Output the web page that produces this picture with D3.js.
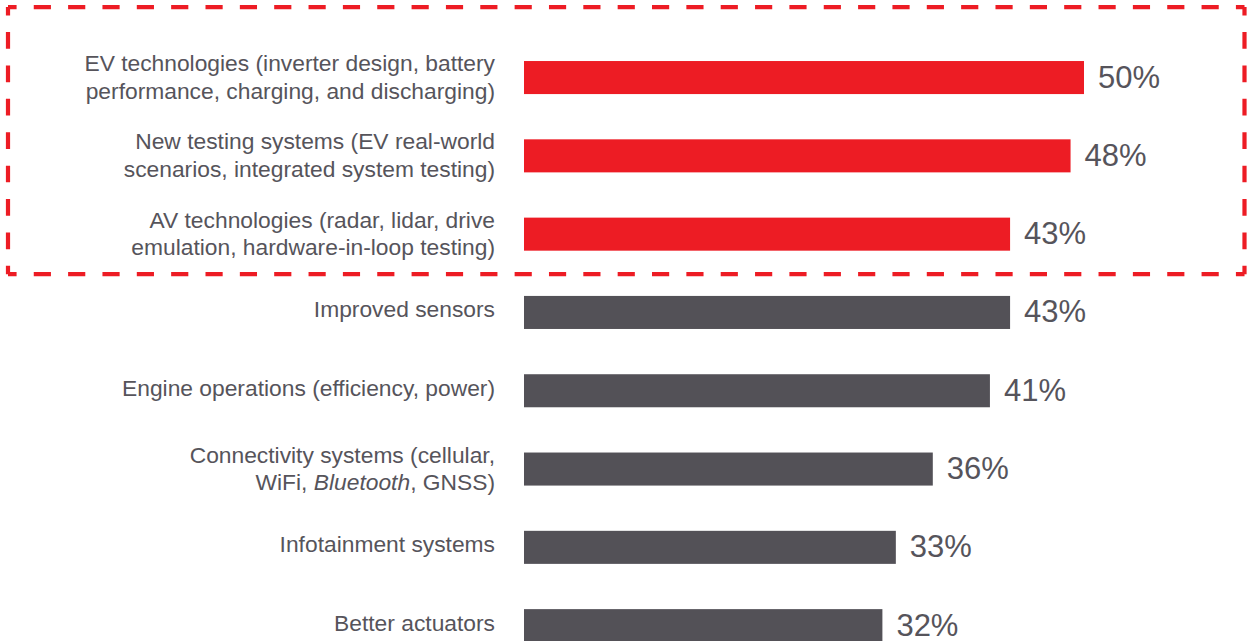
<!DOCTYPE html>
<html>
<head>
<meta charset="utf-8">
<script src="https://cdn.jsdelivr.net/npm/d3@7"></script>
<style>
  html, body { margin: 0; padding: 0; background: #ffffff; }
  svg { display: block; }
</style>
</head>
<body>
<svg id="chart" width="1247" height="641"></svg>
<script>
// ---- data ----
const categories = [
  "EV technologies",
  "New testing systems",
  "AV technologies",
  "Improved sensors",
  "Engine operations",
  "Connectivity systems",
  "Infotainment systems",
  "Better actuators"
];
// label lines: arrays of line segments [text, italic?]
const labelLines = [
  [[["EV technologies (inverter design, battery", false]], [["performance, charging, and discharging)", false]]],
  [[["New testing systems (EV real-world", false]], [["scenarios, integrated system testing)", false]]],
  [[["AV technologies (radar, lidar, drive", false]], [["emulation, hardware-in-loop testing)", false]]],
  [[["Improved sensors", false]]],
  [[["Engine operations (efficiency, power)", false]]],
  [[["Connectivity systems (cellular,", false]], [["WiFi, ", false], ["Bluetooth", true], [", GNSS)", false]]],
  [[["Infotainment systems", false]]],
  [[["Better actuators", false]]]
];
const values = [50, 48.8, 43.4, 43.4, 41.6, 36.5, 33.2, 32.0];
const valueLabels = ["50%", "48%", "43%", "43%", "41%", "36%", "33%", "32%"];
const highlighted = [true, true, true, false, false, false, false, false];

// ---- styles ----
const RED = "#ed1c24";
const GRAY = "#535157";
const TEXT = "#56545b";
const FONT = "'Liberation Sans', Arial, Helvetica, sans-serif";

const svg = d3.select("#chart");

const x = d3.scaleLinear().domain([0, 50]).range([524, 1084]);
const y = d3.scaleBand()
  .domain(categories)
  .range([38.4, 38.4 + 78.3 * categories.length])
  .paddingInner(0.578)
  .paddingOuter(0.289);

// bars
svg.append("g").selectAll("rect")
  .data(categories)
  .join("rect")
  .attr("x", x(0))
  .attr("y", d => y(d))
  .attr("width", (d, i) => x(values[i]) - x(0))
  .attr("height", y.bandwidth())
  .attr("fill", (d, i) => highlighted[i] ? RED : GRAY);

// value labels
svg.append("g").selectAll("text")
  .data(categories)
  .join("text")
  .attr("x", (d, i) => x(values[i]) + 14)
  .attr("y", d => y(d) + y.bandwidth() / 2 + 10)
  .attr("font-family", FONT)
  .attr("font-size", 31)
  .attr("fill", TEXT)
  .text((d, i) => valueLabels[i]);

// category labels
const lg = svg.append("g");
categories.forEach((c, i) => {
  const cy = y(c) + y.bandwidth() / 2;
  const lines = labelLines[i];
  const baselines = lines.length === 1 ? [cy + 5] : [cy - 6.5, cy + 21];
  lines.forEach((segs, li) => {
    const t = lg.append("text")
      .attr("x", 495)
      .attr("y", baselines[li])
      .attr("text-anchor", "end")
      .attr("font-family", FONT)
      .attr("font-size", 22.8)
      .attr("fill", TEXT);
    segs.forEach(([s, it]) => {
      t.append("tspan").attr("font-style", it ? "italic" : "normal").text(s);
    });
  });
});

// dashed highlight box around highlighted categories
const hi = categories.filter((d, i) => highlighted[i]);
const boxLeft = 8, boxRight = 1244.5;
const boxTop = y(hi[0]) - 54;
const boxBottom = y(hi[hi.length - 1]) + y.bandwidth() + 23.5;
function dashedSide(x1, y1, x2, y2) {
  const L = Math.hypot(x2 - x1, y2 - y1);
  const n = Math.max(1, Math.round(L / 34));
  const p = L / n;
  svg.append("line")
    .attr("x1", x1).attr("y1", y1).attr("x2", x2).attr("y2", y2)
    .attr("stroke", RED)
    .attr("stroke-width", 4.2)
    .attr("stroke-dasharray", `${p / 2},${p / 2}`)
    .attr("stroke-dashoffset", p / 4);
}
dashedSide(boxLeft, boxTop, boxRight, boxTop);
dashedSide(boxRight, boxTop, boxRight, boxBottom);
dashedSide(boxRight, boxBottom, boxLeft, boxBottom);
dashedSide(boxLeft, boxBottom, boxLeft, boxTop);
</script>
</body>
</html>
